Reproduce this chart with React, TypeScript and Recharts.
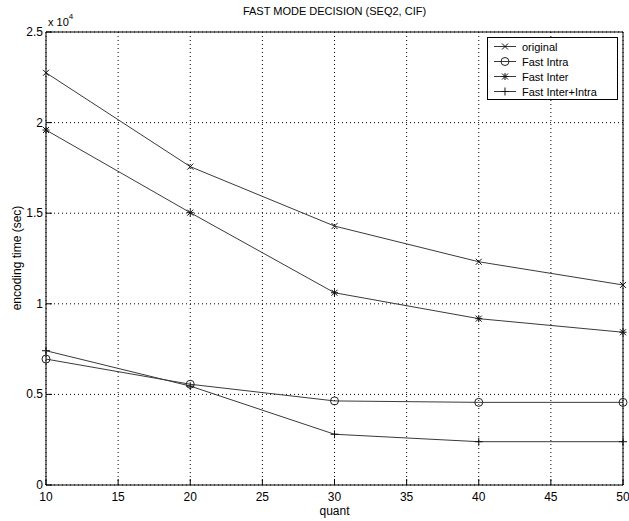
import { LineChart, Line, XAxis, YAxis, CartesianGrid } from "recharts";

const QUANT = [10, 20, 30, 40, 50];
const ORIGINAL = [22750, 17570, 14290, 12320, 11040];
const FAST_INTRA = [6950, 5560, 4640, 4560, 4560];
const FAST_INTER = [19590, 15030, 10610, 9180, 8430];
const FAST_INTER_INTRA = [7410, 5460, 2800, 2390, 2390];
const X_TICKS = [10, 15, 20, 25, 30, 35, 40, 45, 50];
const Y_TICKS = [0, 5000, 10000, 15000, 20000, 25000];

const SERIES = [
  { key: "original", name: "original", marker: "x" },
  { key: "fastIntra", name: "Fast Intra", marker: "o" },
  { key: "fastInter", name: "Fast Inter", marker: "*" },
  { key: "fastBoth", name: "Fast Inter+Intra", marker: "+" },
];

const FONT = "'Liberation Sans', Arial, sans-serif";
const LINE = "#3a3a3a";

const data = QUANT.map((q, i) => ({
  q,
  original: ORIGINAL[i],
  fastIntra: FAST_INTRA[i],
  fastInter: FAST_INTER[i],
  fastBoth: FAST_INTER_INTRA[i],
}));

function Marker({ kind, cx, cy }: { kind: string; cx: number; cy: number }) {
  const s = 3;
  if (kind === "o") return <circle cx={cx} cy={cy} r={4} fill="none" stroke="#222" strokeWidth={1} />;
  const parts: JSX.Element[] = [];
  if (kind === "x" || kind === "*") {
    parts.push(<line key="a" x1={cx - s} y1={cy - s} x2={cx + s} y2={cy + s} />);
    parts.push(<line key="b" x1={cx - s} y1={cy + s} x2={cx + s} y2={cy - s} />);
  }
  if (kind === "+" || kind === "*") {
    const p = kind === "+" ? 4 : 3.5;
    parts.push(<line key="c" x1={cx - p} y1={cy} x2={cx + p} y2={cy} />);
    parts.push(<line key="d" x1={cx} y1={cy - p} x2={cx} y2={cy + p} />);
  }
  return <g stroke="#111" strokeWidth={1}>{parts}</g>;
}

function XTick({ x, y, payload }: any) {
  return (
    <g>
      <line x1={x} y1={y} x2={x} y2={y - 6} stroke="#000" />
      <text x={x} y={y + 16} textAnchor="middle" fontSize={12} fontFamily={FONT} fill="#000">
        {payload.value}
      </text>
    </g>
  );
}

function YTick({ x, y, payload }: any) {
  return (
    <g>
      <line x1={x} y1={y} x2={x + 6} y2={y} stroke="#000" />
      <text x={x - 3} y={y + 4} textAnchor="end" fontSize={12} fontFamily={FONT} fill="#000">
        {payload.value / 10000}
      </text>
    </g>
  );
}

function LegendBox() {
  return (
    <div
      style={{
        position: "absolute",
        left: 487,
        top: 37,
        width: 129,
        height: 61,
        border: "1px solid #000",
        background: "#fff",
        fontFamily: FONT,
        fontSize: 11,
      }}
    >
      {SERIES.map((s, i) => (
        <div key={s.key} style={{ position: "absolute", left: 5, top: 1 + i * 15, height: 15, display: "flex", alignItems: "center" }}>
          <svg width={24} height={15} style={{ display: "block" }}>
            <line x1={1} y1={7.5} x2={23} y2={7.5} stroke={LINE} />
            <Marker kind={s.marker} cx={12} cy={7.5} />
          </svg>
          <span style={{ marginLeft: 5, whiteSpace: "nowrap" }}>{s.name}</span>
        </div>
      ))}
    </div>
  );
}

export default function App() {
  return (
    <div style={{ position: "absolute", left: 0, top: 0, width: 629, height: 521, background: "#fff" }}>
      <LineChart width={629} height={521} data={data} margin={{ top: 32, right: 6, bottom: 0, left: 0 }}>
        <CartesianGrid stroke="#000" strokeDasharray="1 3" />
        <XAxis
          dataKey="q"
          type="number"
          domain={[10, 50]}
          ticks={X_TICKS}
          height={36}
          tickSize={0}
          tickMargin={0}
          tickLine={false}
          tick={<XTick />}
          axisLine={{ stroke: "#000" }}
          interval={0}
        />
        <XAxis
          xAxisId="top"
          orientation="top"
          dataKey="q"
          type="number"
          domain={[10, 50]}
          ticks={X_TICKS}
          height={2}
          mirror
          tick={false}
          tickSize={6}
          tickLine={{ stroke: "#000" }}
          axisLine={{ stroke: "#000" }}
          interval={0}
        />
        <YAxis
          type="number"
          domain={[0, 25000]}
          ticks={Y_TICKS}
          width={46}
          tickSize={0}
          tickMargin={0}
          tickLine={false}
          tick={<YTick />}
          axisLine={{ stroke: "#000" }}
          interval={0}
        />
        <YAxis
          yAxisId="right"
          orientation="right"
          type="number"
          domain={[0, 25000]}
          ticks={Y_TICKS}
          width={2}
          mirror
          tick={false}
          tickSize={6}
          tickLine={{ stroke: "#000" }}
          axisLine={{ stroke: "#000" }}
          interval={0}
        />
        {SERIES.map((s) => (
          <Line
            key={s.key}
            dataKey={s.key}
            name={s.name}
            stroke={LINE}
            strokeWidth={1}
            isAnimationActive={false}
            dot={(p: any) => <Marker key={`${s.key}-${p.index}`} kind={s.marker} cx={p.cx} cy={p.cy} />}
            activeDot={false}
          />
        ))}
      </LineChart>
      <div style={{ position: "absolute", left: 0, width: 669, top: 5, textAlign: "center", fontFamily: FONT, fontSize: 11 }}>
        FAST MODE DECISION (SEQ2, CIF)
      </div>
      <div style={{ position: "absolute", left: 48, top: 14, fontFamily: FONT, fontSize: 11 }}>
        x 10<sup style={{ fontSize: 8, position: "relative", top: -2 }}>4</sup>
      </div>
      <div
        style={{
          position: "absolute",
          left: 17,
          top: 258,
          transform: "translate(-50%, -50%) rotate(-90deg)",
          whiteSpace: "nowrap",
          fontFamily: FONT,
          fontSize: 12,
        }}
      >
        encoding time (sec)
      </div>
      <div style={{ position: "absolute", left: 0, width: 669, top: 504, textAlign: "center", fontFamily: FONT, fontSize: 12 }}>
        quant
      </div>
      <LegendBox />
    </div>
  );
}
